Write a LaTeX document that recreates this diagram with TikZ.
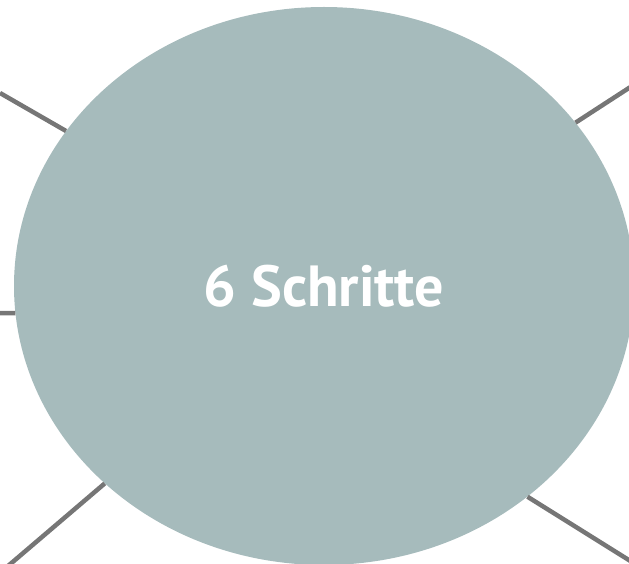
\documentclass[tikz,border=0pt]{standalone}
\usepackage{xcolor}
\usepackage{fontspec}
\setsansfont{PT Sans}
\usepackage{tikz}
\usetikzlibrary{shapes.geometric}

\definecolor{blobfill}{HTML}{A6BBBC}
\definecolor{spoke}{HTML}{767676}

\begin{document}
\begin{tikzpicture}[x=1pt,y=-1pt,
	spokeline/.style={draw=spoke,line width=4.5pt},
	mainblob/.style={ellipse,fill=blobfill,minimum width=620pt,minimum height=558pt,inner sep=0pt,
		text=white,font=\sffamily\bfseries\fontsize{58}{62}\selectfont}]
	\useasboundingbox (0,0) rectangle (629,564);
	\coordinate (UpLeft) at (0,93);
	\coordinate (Left) at (0,313);
	\coordinate (DownLeft) at (8,566);
	\coordinate (UpRight) at (632,86);
	\coordinate (DownRight) at (632,562);
	\node[mainblob] (Steps) at (324,286) {6 Schritte};
	% draw the line
	\draw[spokeline] (Steps.149.4) -- (UpLeft);
	\draw[spokeline] (Steps.185.1) -- (Left);
	\draw[spokeline] (Steps.222.7) -- (DownLeft);
	\draw[spokeline] (Steps.33)    -- (UpRight);
	\draw[spokeline] (Steps.314.2) -- (DownRight);
\end{tikzpicture}
\end{document}
